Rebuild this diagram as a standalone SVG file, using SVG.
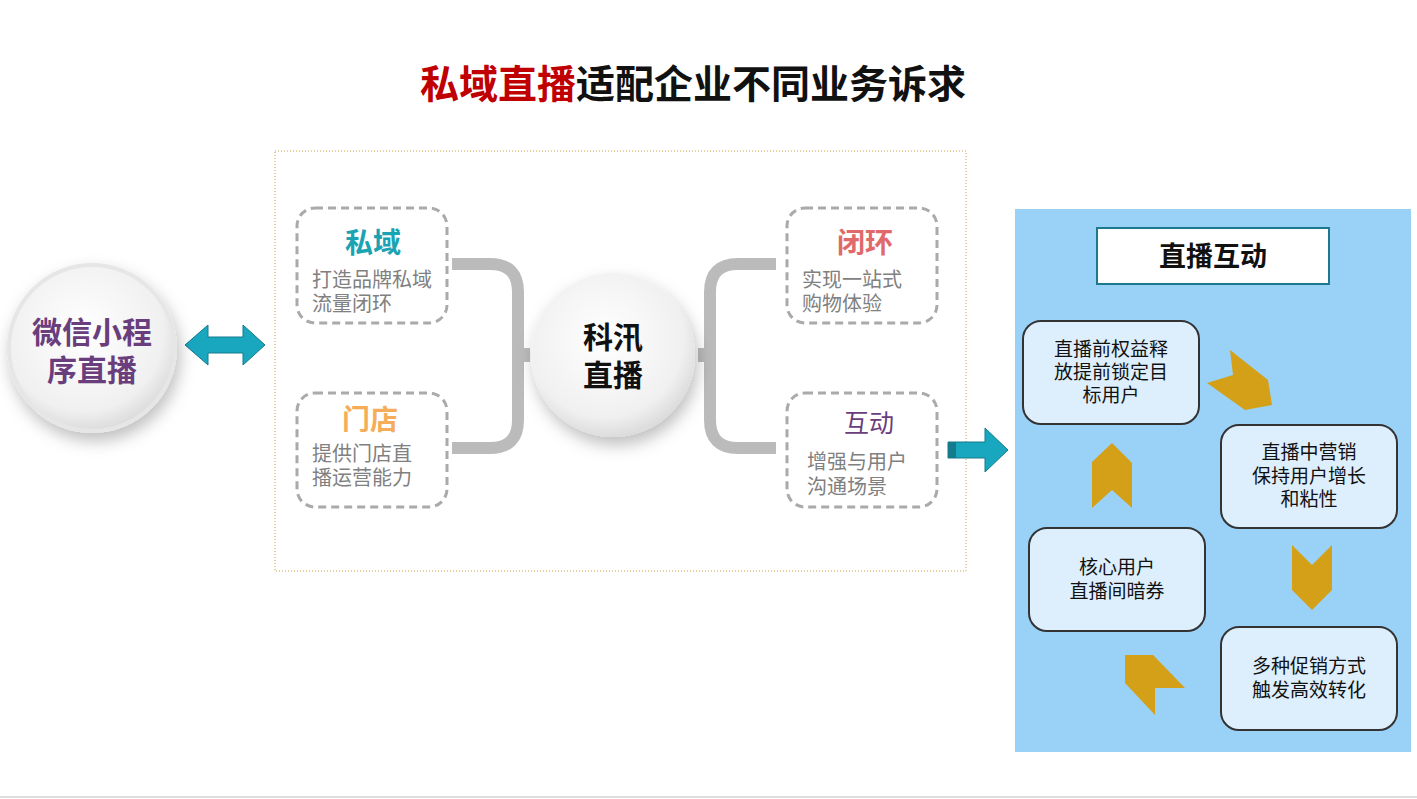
<svg xmlns="http://www.w3.org/2000/svg" width="1417" height="799" viewBox="0 0 1417 799">
<defs>
<radialGradient id="cg" cx="0.45" cy="0.4" r="0.6"><stop offset="0" stop-color="#ffffff"/><stop offset="0.8" stop-color="#f0f0f0"/><stop offset="1" stop-color="#dcdcdc"/></radialGradient>
<filter id="sh" x="-30%" y="-30%" width="160%" height="170%"><feDropShadow dx="3" dy="8" stdDeviation="8" flood-color="#000" flood-opacity="0.25"/></filter>
</defs>
<style>
text{font-family:"Noto Sans CJK SC","Liberation Sans",sans-serif;text-anchor:middle}
.db{fill:#fff;stroke:#aaa;stroke-width:3;stroke-dasharray:8,5}
.sub{fill:#808080;font-size:20px;text-anchor:start}
.rb{fill:#ddeefc;stroke:#333;stroke-width:2}
.rt{fill:#111;font-size:19px}
.ch{fill:#d4a017}
.br{fill:none;stroke:#bbb;stroke-width:12}
</style>
<rect width="1417" height="799" fill="#fff"/>
<line x1="0" y1="797" x2="1417" y2="797" stroke="#ddd" stroke-width="2"/>
<text x="693" y="98" font-size="39" font-weight="bold"><tspan fill="#c00000">私域直播</tspan><tspan fill="#111">适配企业不同业务诉求</tspan></text>
<rect x="275" y="151" width="691" height="420" fill="#fff" stroke="#c8a040" stroke-width="1" stroke-dasharray="1,2"/>
<rect x="1015" y="209" width="396" height="543" fill="#99d1f7"/>
<g id="connectors">
<path class="br" d="M452,264 H490 Q518,264 518,292 V420 Q518,448 490,448 H452"/>
<path class="br" d="M776,264 H738 Q710,264 710,292 V420 Q710,448 738,448 H776"/>
<rect x="518" y="348" width="12" height="14" fill="#bbb"/>
<rect x="698" y="348" width="12" height="14" fill="#bbb"/>
<polygon points="185,345 208,325 208,337 243,337 243,325 265,345 243,365 243,353 208,353 208,365" fill="#18a7bf" stroke="#157a8c" stroke-width="1"/>
<polygon points="948,442 985,442 985,428 1008,450 985,472 985,458 948,458" fill="#18a7bf" stroke="#157a8c" stroke-width="1"/>
<rect x="948" y="442" width="8" height="16" fill="#157a8c"/>
<polygon class="ch" points="1207,383 1233,375 1230,350 1268,380 1272,405 1245,410"/>
<polygon class="ch" points="1292,545 1312,565 1332,545 1332,590 1312,610 1292,590"/>
<polygon class="ch" points="1125,655 1153,655 1185,688 1155,688 1155,715 1125,683"/>
<polygon class="ch" points="1092,508 1092,462 1112,443 1132,463 1132,508 1112,490"/>
</g>
<g id="wechat"><circle cx="92" cy="348" r="83" fill="url(#cg)" stroke="#e6e6e6" stroke-width="4" filter="url(#sh)"/>
<text x="92" y="343" font-size="30" font-weight="bold" fill="#6a3d7c">微信小程</text><text x="92" y="381" font-size="30" font-weight="bold" fill="#6a3d7c">序直播</text></g>
<g id="core"><circle cx="613" cy="355" r="82" fill="url(#cg)" filter="url(#sh)"/>
<text x="613" y="348" font-size="30" font-weight="bold" fill="#111">科汛</text><text x="613" y="386" font-size="30" font-weight="bold" fill="#111">直播</text></g>
<g id="siyu"><rect class="db" x="297" y="208" width="150" height="115" rx="18"/>
<text x="373" y="253" font-size="28" font-weight="bold" fill="#1aa3b3">私域</text>
<text class="sub" x="312" y="287">打造品牌私域</text><text class="sub" x="312" y="311">流量闭环</text></g>
<g id="mendian"><rect class="db" x="297" y="393" width="150" height="114" rx="18"/>
<text x="370" y="430" font-size="28" font-weight="bold" fill="#f5ad5a">门店</text>
<text class="sub" x="312" y="461">提供门店直</text><text class="sub" x="312" y="485">播运营能力</text></g>
<g id="bihuan"><rect class="db" x="787" y="208" width="150" height="115" rx="18"/>
<text x="865" y="253" font-size="28" font-weight="bold" fill="#e06a6a">闭环</text>
<text class="sub" x="802" y="287">实现一站式</text><text class="sub" x="802" y="311">购物体验</text></g>
<g id="hudong"><rect class="db" x="787" y="393" width="150" height="114" rx="18"/>
<text x="869" y="432" font-size="25" fill="#6a3d7c">互动</text>
<text class="sub" x="807" y="469">增强与用户</text><text class="sub" x="807" y="494">沟通场景</text></g>
<g id="title"><rect x="1097" y="228" width="232" height="56" fill="#fff" stroke="#1c7a8c" stroke-width="2"/>
<text x="1213" y="266" font-size="27" font-weight="bold" fill="#111">直播互动</text></g>
<g id="n1"><rect class="rb" x="1023" y="321" width="176" height="103" rx="18"/>
<text class="rt" x="1111" y="356">直播前权益释</text><text class="rt" x="1111" y="379">放提前锁定目</text><text class="rt" x="1111" y="402">标用户</text></g>
<g id="n2"><rect class="rb" x="1221" y="425" width="176" height="103" rx="18"/>
<text class="rt" x="1309" y="459">直播中营销</text><text class="rt" x="1309" y="483">保持用户增长</text><text class="rt" x="1309" y="506">和粘性</text></g>
<g id="n3"><rect class="rb" x="1221" y="627" width="176" height="103" rx="18"/>
<text class="rt" x="1309" y="673">多种促销方式</text><text class="rt" x="1309" y="697">触发高效转化</text></g>
<g id="n4"><rect class="rb" x="1029" y="528" width="176" height="103" rx="18"/>
<text class="rt" x="1117" y="574">核心用户</text><text class="rt" x="1117" y="598">直播间暗券</text></g>
</svg>
